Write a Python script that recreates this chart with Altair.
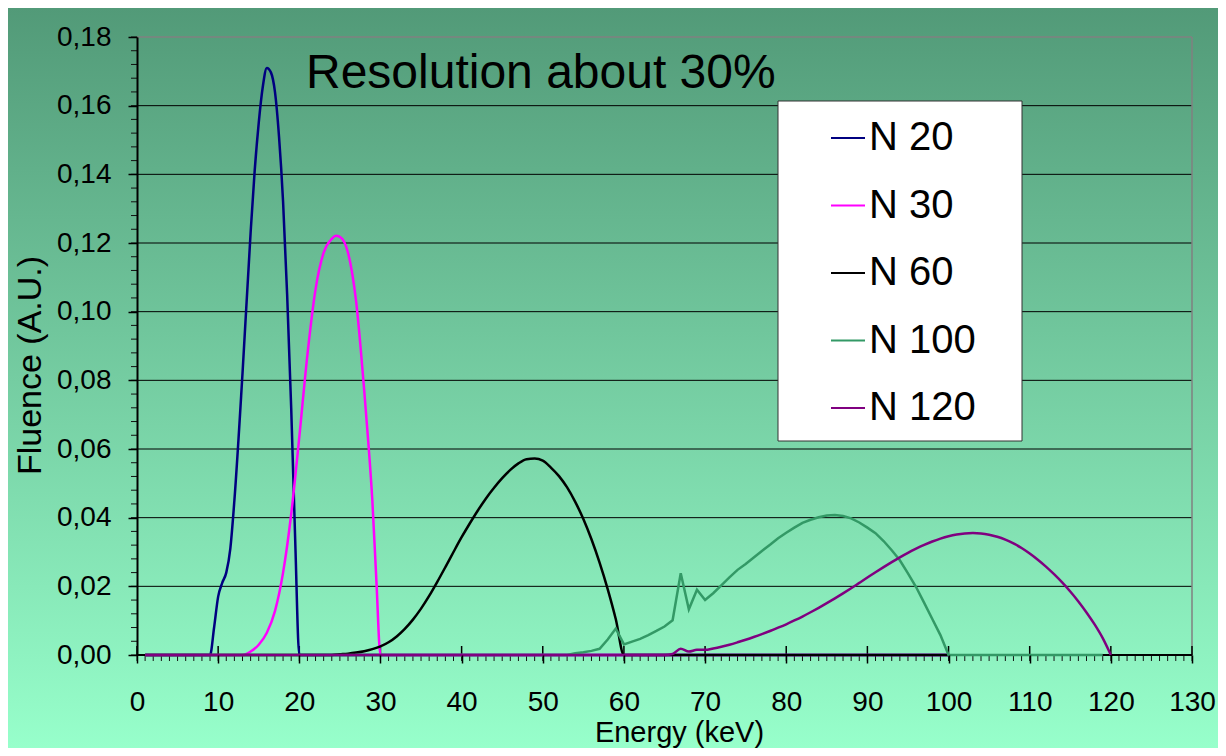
import altair as alt
import pandas as pd

FONT = "Liberation Sans"
W, H = 1055, 618

SERIES = ["N 20", "N 30", "N 60", "N 100", "N 120"]
COLORS = ["#000080", "#FF00FF", "#000000", "#339966", "#800080"]

E_N20 = [1, 9, 9.5, 10, 10.5, 11, 11.5, 12, 13, 14, 14.5, 15, 15.5, 16, 16.5, 17, 17.5,
         18, 18.5, 19, 19.5, 20, 100]
V_N20 = [0, 0, 0.008, 0.017, 0.021, 0.024, 0.031, 0.045, 0.082, 0.123, 0.141, 0.155,
         0.1655, 0.171, 0.1697, 0.164, 0.151, 0.132, 0.105, 0.072, 0.033, 0, 0]

E_N30 = [1, 13, 14, 15, 16, 17, 18, 19, 20, 21, 22, 23, 24, 24.5, 25, 26, 27, 28, 28.5, 29,
         29.5, 30, 100]
V_N30 = [0, 0, 0.001, 0.003, 0.0065, 0.0128, 0.024, 0.041, 0.0635, 0.0875, 0.1065,
         0.1172, 0.1212, 0.1221, 0.1218, 0.1172, 0.103, 0.077, 0.062, 0.045, 0.0215, 0, 0]

E_N60 = [1] + list(range(24, 61)) + [100]
V_N60 = [0, 0, 0.0002, 0.0004, 0.0007, 0.0011, 0.0017, 0.0025, 0.0037, 0.0054, 0.0076,
         0.0103, 0.0135, 0.0172, 0.0213, 0.0256, 0.0300, 0.0343, 0.0383, 0.0421, 0.0456,
         0.0487, 0.0515, 0.0539, 0.0558, 0.0570, 0.0572, 0.0566, 0.0546, 0.0521, 0.0488,
         0.0446, 0.0396, 0.0337, 0.0269, 0.0192, 0.0104, 0, 0]

E_N100 = [1] + list(range(53, 101)) + [119]
V_N100 = [0, 0, 0.0005, 0.0008, 0.0012, 0.0018, 0.0045, 0.0077, 0.0031, 0.0039, 0.0047,
          0.0058, 0.0070, 0.0083, 0.0101, 0.0238, 0.0133, 0.0190, 0.0160, 0.0180, 0.0203,
          0.0226, 0.0248, 0.0265, 0.0284, 0.0303, 0.0321, 0.0340, 0.0356, 0.0371, 0.0385,
          0.0394, 0.0401, 0.0406, 0.0408, 0.0405, 0.0398, 0.0386, 0.0371, 0.0355, 0.0332,
          0.0305, 0.0276, 0.0238, 0.0198, 0.0152, 0.0105, 0.0058, 0, 0]

E_N120 = [1] + list(range(65, 121))
V_N120 = [0, 0, 0.0003, 0.0018, 0.0010, 0.0015, 0.0015, 0.0019, 0.0024, 0.0030, 0.0037,
          0.00445, 0.00525, 0.0061, 0.0070, 0.00795, 0.00895, 0.01005, 0.0112, 0.01245,
          0.01375, 0.0151, 0.0165, 0.01795, 0.01945, 0.0210, 0.02255, 0.0241, 0.0256,
          0.02705, 0.02845, 0.02975, 0.03095, 0.03205, 0.03305, 0.0339, 0.0346, 0.0351,
          0.0354, 0.0355, 0.0354, 0.03505, 0.03445, 0.0336, 0.0325, 0.03115, 0.02955,
          0.02775, 0.02575, 0.02355, 0.02115, 0.0185, 0.0156, 0.0124, 0.0089, 0.0049, 0]

X_TICKS = list(range(0, 131, 10))
X_MINOR = list(range(0, 131, 1))
Y_TICKS = [0.0, 0.02, 0.04, 0.06, 0.08, 0.10, 0.12, 0.14, 0.16, 0.18]
Y_MINOR = [round(i * 0.004, 3) for i in range(46)]

TITLE_TEXT = "Resolution about 30%"
X_TITLE = "Energy (keV)"
Y_TITLE = "Fluence (A.U.)"

ENERGIES = [E_N20, E_N30, E_N60, E_N100, E_N120]
VALUES = [V_N20, V_N30, V_N60, V_N100, V_N120]

rows = []
for s, es, vs in zip(SERIES, ENERGIES, VALUES):
    assert len(es) == len(vs), s
    for e, v in zip(es, vs):
        rows.append({"series": s, "energy": e, "fluence": v})
df = pd.DataFrame(rows)

xscale = alt.Scale(domain=[0, 130], nice=False, zero=False)
yscale = alt.Scale(domain=[0, 0.18], nice=False)
cscale = alt.Scale(domain=SERIES, range=COLORS)

xaxis = alt.Axis(values=X_TICKS, domain=False, grid=False, tickSize=8, tickWidth=1.5,
                 tickColor="black", labelFontSize=28, labelFont=FONT, labelColor="black",
                 labelPadding=25, labelFlush=False, labelOverlap=False,
                 title=X_TITLE, titleFontSize=29, titleFont=FONT, titleFontWeight="normal",
                 titleColor="black", titleX=542, titleY=86, titleAlign="center",
                 titleBaseline="alphabetic", zindex=1)
yaxis = alt.Axis(values=Y_TICKS, labelExpr="replace(format(datum.value, '.2f'), '.', ',')",
                 domain=True, domainColor="black", domainWidth=2, grid=False,
                 tickSize=9, tickWidth=1.5, tickColor="black", labelFontSize=28,
                 labelFont=FONT, labelColor="black", labelPadding=17, labelFlush=False,
                 labelOverlap=False, title=Y_TITLE, titleFontSize=34, titleFont=FONT,
                 titleFontWeight="normal", titleColor="black", titleX=-107, titleY=328,
                 titleAngle=270, titleAlign="center", titleBaseline="middle", zindex=1)

legend = alt.Legend(title=None, orient="none", legendX=691, legendY=81, direction="vertical",
                    padding=0, symbolType="stroke", symbolSize=1156, symbolStrokeWidth=2,
                    symbolOffset=0, labelFontSize=40, labelFont=FONT, labelColor="black",
                    labelOffset=1, rowPadding=27.5, labelLimit=400)

one = pd.DataFrame({"a": [0]})

bg = alt.Chart(one).mark_rect(
    fill=alt.Gradient(gradient="linear",
                      stops=[alt.GradientStop(color="#529A78", offset=0),
                             alt.GradientStop(color="#97FFCB", offset=1)],
                      x1=0, x2=0, y1=0, y2=1)
).encode(x=alt.value(-129), x2=alt.value(W + 26), y=alt.value(-29), y2=alt.value(H + 93))

grid = alt.Chart(pd.DataFrame({"g": Y_TICKS[1:-1]})).mark_rule(color="black", strokeWidth=1).encode(
    y=alt.Y("g:Q", scale=yscale, axis=yaxis))
top_border = alt.Chart(pd.DataFrame({"g": [0.18]})).mark_rule(color="#808080", strokeWidth=1.5).encode(
    y=alt.Y("g:Q", scale=yscale, axis=yaxis))
right_border = alt.Chart(pd.DataFrame({"t": [130]})).mark_rule(color="#808080", strokeWidth=1.5).encode(
    x=alt.X("t:Q", scale=xscale, axis=xaxis))
major_up = alt.Chart(pd.DataFrame({"t": X_TICKS})).mark_rule(color="black", strokeWidth=1.5).encode(
    x=alt.X("t:Q", scale=xscale, axis=xaxis), y=alt.value(H - 9), y2=alt.value(H))
minor_x = alt.Chart(pd.DataFrame({"t": X_MINOR})).mark_rule(color="#111111", strokeWidth=1).encode(
    x=alt.X("t:Q", scale=xscale, axis=xaxis), y=alt.value(H), y2=alt.value(H + 6))
minor_y = alt.Chart(pd.DataFrame({"g": Y_MINOR})).mark_rule(color="#111111", strokeWidth=1).encode(
    y=alt.Y("g:Q", scale=yscale, axis=yaxis), x=alt.value(-6), x2=alt.value(0))
baseline = alt.Chart(pd.DataFrame({"g": [0.0]})).mark_rule(color="black", strokeWidth=2).encode(
    y=alt.Y("g:Q", scale=yscale, axis=yaxis))

legend_box = alt.Chart(one).mark_rect(fill="white", stroke="#333333", strokeWidth=1).encode(
    x=alt.value(641), x2=alt.value(885), y=alt.value(64), y2=alt.value(404))

line_layers = []
for s in SERIES:
    interp = "linear" if s == "N 100" else "monotone"
    line_layers.append(
        alt.Chart(df).transform_filter(alt.datum.series == s).mark_line(
            interpolate=interp, strokeWidth=2.5
        ).encode(
            x=alt.X("energy:Q", scale=xscale, axis=xaxis),
            y=alt.Y("fluence:Q", scale=yscale, axis=yaxis),
            color=alt.Color("series:N", scale=cscale, legend=legend),
        )
    )

title = alt.Chart(one).mark_text(
    text=TITLE_TEXT, font=FONT, fontSize=48, align="left", baseline="alphabetic", color="black"
).encode(x=alt.value(169), y=alt.value(51))

chart = alt.layer(
    bg, grid, top_border, right_border, minor_x, minor_y, major_up, baseline,
    legend_box, *line_layers, title
).properties(
    width=W, height=H,
    padding={"left": 129, "top": 29, "right": 26, "bottom": 93},
    autosize=alt.AutoSizeParams(type="none"),
).configure_view(stroke=None).configure(font=FONT, background="white")

chart.save("out.html", embed_options={"renderer": "svg", "actions": False})
